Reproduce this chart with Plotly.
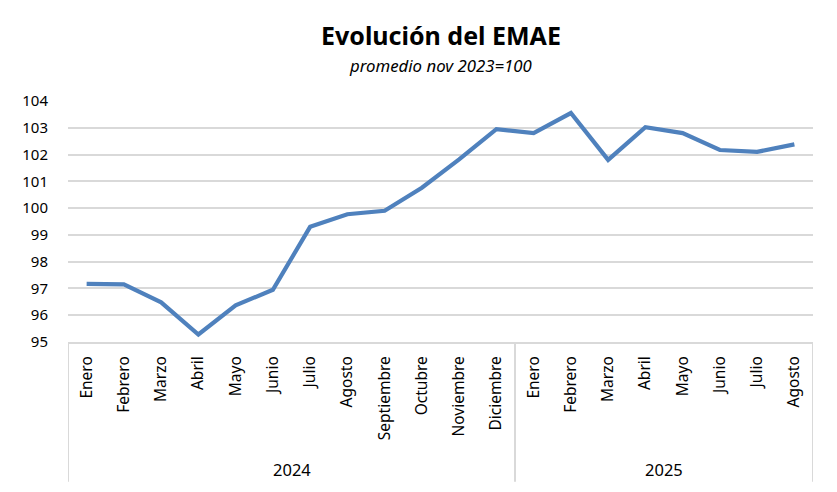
import plotly.graph_objects as go

years = ["2024"] * 12 + ["2025"] * 8
months = ["Enero", "Febrero", "Marzo", "Abril", "Mayo", "Junio", "Julio", "Agosto",
          "Septiembre", "Octubre", "Noviembre", "Diciembre",
          "Enero", "Febrero", "Marzo", "Abril", "Mayo", "Junio", "Julio", "Agosto"]
emae = [97.17, 97.15, 96.48, 95.28, 96.37, 96.95, 99.3, 99.77, 99.9, 100.76, 101.82, 102.95,
        102.8, 103.55, 101.8, 103.02, 102.8, 102.17, 102.1, 102.38]
yticks = [95, 96, 97, 98, 99, 100, 101, 102, 103, 104]
title = "Evolución del EMAE"
subtitle = "promedio nov 2023=100"

font = "Noto Sans"
grid = "#d9d9d9"
idx = list(range(len(emae)))

fig = go.Figure()
fig.add_trace(go.Scatter(x=idx, y=emae, mode="lines",
                         line=dict(color="#4f81bd", width=4.2), hoverinfo="skip"))

# year groups
groups = []
for i, yv in enumerate(years):
    if not groups or groups[-1][0] != yv:
        groups.append([yv, i, i])
    else:
        groups[-1][2] = i

shapes = []
annots = []
div_bottom = -0.58
for g, start, end in groups:
    shapes.append(dict(type="line", xref="x", yref="paper", x0=start - 0.5, x1=start - 0.5,
                       y0=0, y1=div_bottom, line=dict(color=grid, width=2)))
    annots.append(dict(text=g, xref="x", yref="paper", x=(start + end) / 2, y=-0.53,
                       showarrow=False, yanchor="middle", font=dict(size=16.5, family=font)))
last_end = groups[-1][2]
shapes.append(dict(type="line", xref="x", yref="paper", x0=last_end + 0.5, x1=last_end + 0.5,
                   y0=0, y1=div_bottom, line=dict(color=grid, width=2)))

annots.append(dict(text="<b>" + title + "</b>", xref="paper", yref="paper", x=0.5, y=1.272,
                   showarrow=False, yanchor="middle", font=dict(size=25, family=font)))
annots.append(dict(text="<i>" + subtitle + "</i>", xref="paper", yref="paper", x=0.5, y=1.147,
                   showarrow=False, yanchor="middle", font=dict(size=16.8, family=font)))

# page body has an 8px margin, so the figure is sized/placed to compensate
fig.update_layout(
    width=829, height=484,
    margin=dict(l=60, r=24, t=93, b=150, autoexpand=False),
    paper_bgcolor="white", plot_bgcolor="white",
    showlegend=False,
    font=dict(family=font, color="black", size=14),
    shapes=shapes, annotations=annots,
)
fig.update_yaxes(range=[95, 104], tickvals=yticks, showgrid=True, gridcolor=grid, gridwidth=2,
                 zeroline=False, showline=False, ticks="", ticklabelstandoff=19,
                 tickfont=dict(size=15, family=font), automargin=False)
fig.update_xaxes(range=[-0.5, len(emae) - 0.5], tickvals=idx, ticktext=months, tickangle=-90,
                 showline=True, linecolor=grid, linewidth=2, showgrid=False, zeroline=False,
                 ticks="", ticklabelstandoff=6, tickfont=dict(size=15.5, family=font), automargin=False)

fig.write_html("out.html")
